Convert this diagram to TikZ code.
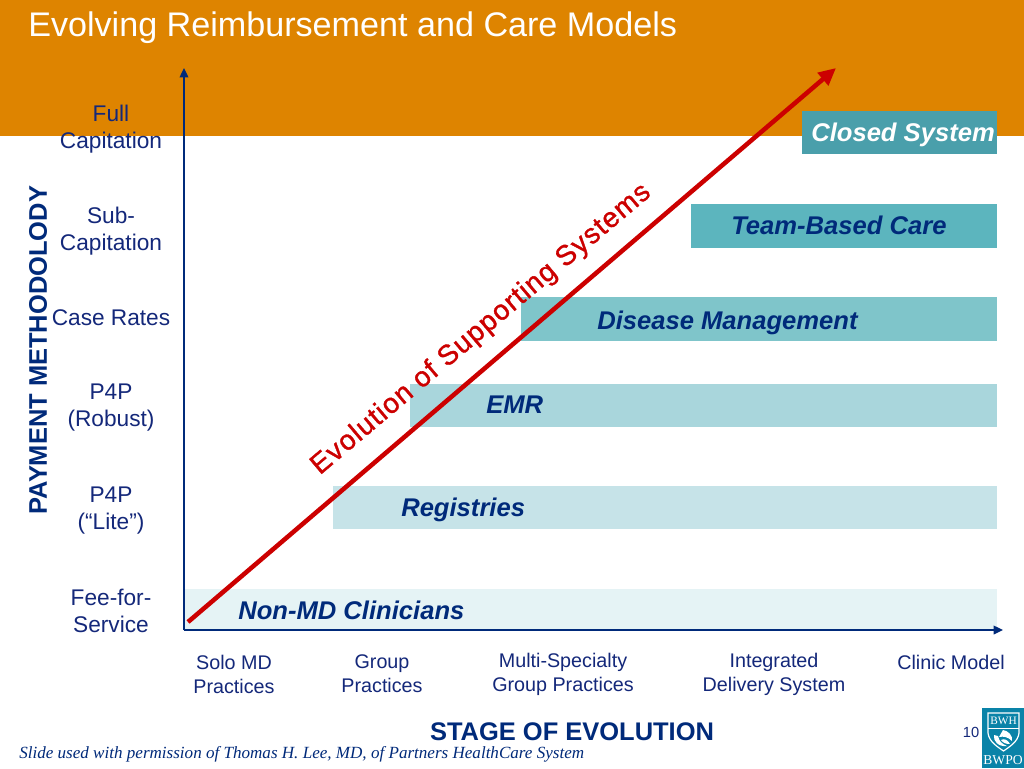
\documentclass[tikz,border=0pt]{standalone}
\usepackage{fontspec}
\setmainfont{Liberation Sans}
\newfontfamily\capfont{Liberation Serif}
\newfontfamily\evfont[FakeBold=1.2,LetterSpace=4]{Liberation Sans}
\usetikzlibrary{arrows.meta}
\definecolor{hdr}{HTML}{DE8400}
\definecolor{navy}{HTML}{002A7A}
\definecolor{redar}{HTML}{CC0000}
\definecolor{gray1}{HTML}{14287A}
\definecolor{b1}{HTML}{E5F3F5}\definecolor{b2}{HTML}{C6E3E8}\definecolor{b3}{HTML}{A9D6DC}
\definecolor{b4}{HTML}{7FC5CA}\definecolor{b5}{HTML}{5CB5BE}\definecolor{b6}{HTML}{4A9FAB}
\definecolor{logo}{HTML}{0A83A8}
\tikzset{
  ylab/.style={align=center,text=gray1,font=\fontsize{17}{20.25}\selectfont,inner sep=0pt},
  xlab/.style={align=center,text=gray1,font=\fontsize{14.8}{18}\selectfont,inner sep=0pt},
  bandtext/.style={anchor=west,inner sep=0pt,text=navy,font=\fontsize{19.2}{22}\selectfont\bfseries\itshape},
  axis/.style={draw=navy,line width=1pt,-{Triangle[length=7pt,width=6.5pt]}},
}
\begin{document}
\begin{tikzpicture}[x=0.75pt,y=-0.75pt]
\useasboundingbox (0,0) rectangle (1024,768);
\fill[white] (0,0) rectangle (1024,768);
\fill[hdr] (0,0) rectangle (1024,136);
\node[anchor=base west,inner sep=0pt,text=white,font=\fontsize{25.6}{28}\selectfont] (title) at (28,36) {Evolving Reimbursement and Care Models};
\fill[b1] (184,589) rectangle (997,630);
\fill[b2] (333,486) rectangle (997,529);
\fill[b3] (410,384) rectangle (997,427);
\fill[b4] (521,297) rectangle (997,341);
\fill[b5] (691,204) rectangle (997,248);
\fill[b6] (802,111) rectangle (997,154);
\node[bandtext] (nm) at (238,610) {Non-MD Clinicians};
\node[bandtext] (reg) at (401,510) {Registries};
\node[bandtext] (emr) at (486,405) {EMR};
\node[bandtext] (dm) at (597,323) {Disease Management};
\node[bandtext] (tb) at (731,225) {Team-Based Care};
\node[bandtext,text=white] (cs) at (811,135) {Closed System};
\coordinate (org) at (184,630);
\coordinate (ytop) at (184,68);
\coordinate (xend) at (1003,630);
\draw[axis] (org) -- (ytop);
\draw[axis] (org) -- (xend);
\node[ylab] (y1) at (111,129) {Full\\Capitation};
\node[ylab] (y2) at (111,231) {Sub-\\Capitation};
\node[ylab] (y3) at (111,318) {Case Rates};
\node[ylab] (y4) at (111,408) {P4P\\(Robust)};
\node[ylab] (y5) at (111,511) {P4P\\(“Lite”)};
\node[ylab] (y6) at (111,611) {Fee-for-\\Service};
\node[rotate=90,inner sep=0pt,text=navy,font=\fontsize{19.1}{21}\selectfont\bfseries] (yt) at (38,350) {PAYMENT METHODOLODY};
\node[xlab] (x1) at (234,674) {Solo MD\\Practices};
\node[xlab] (x2) at (382,674) {Group\\Practices};
\node[xlab] (x3) at (563,674) {Multi-Specialty\\Group Practices};
\node[xlab] (x4) at (774,674) {Integrated\\Delivery System};
\node[xlab] (x5) at (951,662) {Clinic Model};
\node[inner sep=0pt,text=navy,font=\fontsize{19.1}{21}\selectfont\bfseries] (xt) at (572,732) {STAGE OF EVOLUTION};
\coordinate (ra) at (188,622);
\coordinate (rb) at (836,68);
\draw[redar,line width=3.4pt,-{Triangle[length=13pt,width=12pt]}] (ra) -- (rb);
\node[rotate=40.2,anchor=base,inner sep=0pt,text=redar,font=\evfont\fontsize{21}{24}\selectfont] (ev) at (486,335) {Evolution of Supporting Systems};
\node[anchor=base west,inner sep=0pt,text=navy,font=\capfont\fontsize{12.8}{14}\selectfont\itshape] (cr) at (19,758) {Slide used with permission of Thomas H. Lee, MD, of Partners HealthCare System};
\node[inner sep=0pt,text=gray1,font=\fontsize{11}{12}\selectfont] (pg) at (971,732) {10};
\fill[logo] (982,708) rectangle (1024,768);
\draw[white,line width=0.9pt,fill=logo] (988,713) -- (1019,713) -- (1019,733) .. controls (1018,742) and (1009,747) .. (1003.5,751) .. controls (998,747) and (989,742) .. (988,733) -- cycle;
\draw[white,line width=0.6pt] (988,728) -- (1019,728);
\node[inner sep=0pt,text=white,font=\capfont\fontsize{8.5}{9}\selectfont] (bwh) at (1003.5,721) {BWH};
\fill[white] (1003,730) .. controls (1008,731) and (1013,735) .. (1012,741) .. controls (1008,737) and (1004,736) .. (999,737) -- cycle;
\fill[white] (994,735) .. controls (993,741) and (998,747) .. (1007,746) .. controls (1002,744) and (999,741) .. (998,736) -- cycle;
\fill[white] (1001,740) .. controls (1004,738) and (1008,740) .. (1010,744) .. controls (1006,744) and (1003,743) .. (1001,740) -- cycle;
\node[inner sep=0pt,text=white,font=\capfont\fontsize{10.2}{11}\selectfont] (bwpo) at (1003,760) {BWPO};
\end{tikzpicture}
\end{document}
